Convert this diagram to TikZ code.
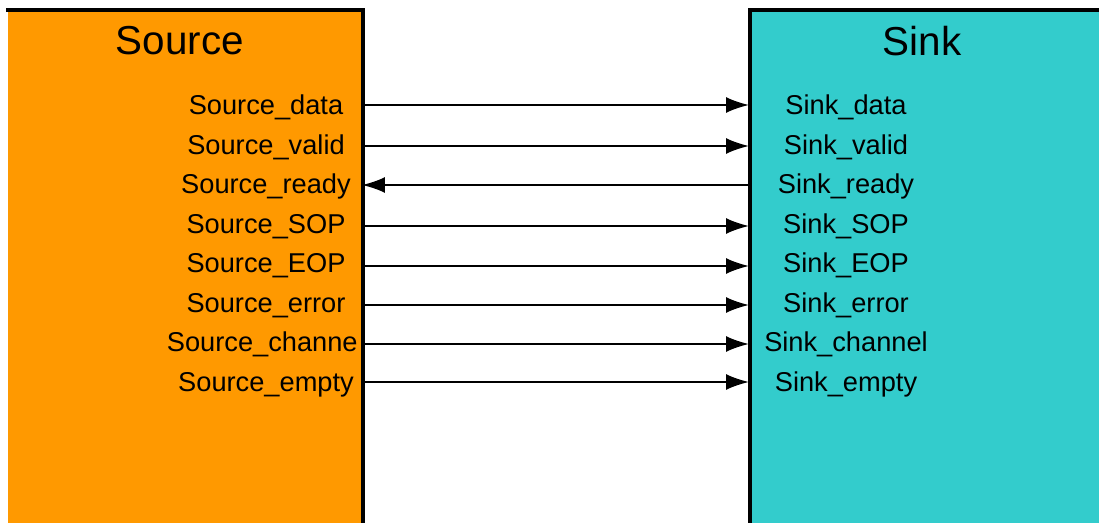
\documentclass[tikz,border=0pt]{standalone}
\usepackage{fontspec}
\setmainfont{Liberation Sans}
\usepackage{tikz}
\usetikzlibrary{arrows.meta, positioning}
\definecolor{srcorange}{HTML}{FF9900}
\definecolor{sinkcyan}{HTML}{33CCCC}

\tikzset{
  block/.style={rectangle, inner sep=0pt, anchor=north west},
  title/.style={font=\fontsize{23}{27}\selectfont},
  sig/.style={font=\fontsize{15.5}{18}\selectfont, inner sep=0pt, anchor=base},
  wire/.style={line width=1.1pt, -{Latex[length=13pt, width=9pt]}},
  edge/.style={line width=2.3pt, line cap=rect}
}

\begin{document}
\begin{tikzpicture}[x=0.02cm, y=-0.02cm]
    \useasboundingbox (0,0) rectangle (1099,523);
    \clip (0,0) rectangle (1099,523);

    % the two blocks, both running off the page
    \node (source) [block, fill=srcorange, minimum width=354*0.02cm, minimum height=530*0.02cm] at (8,10) {};
    \node (sink) [block, fill=sinkcyan, minimum width=360*0.02cm, minimum height=530*0.02cm] at (750,10) {};
    \draw[edge] (source.north west) -- (source.north east) -- (source.south east);
    \draw[edge] (sink.south west) -- (sink.north west) -- (sink.north east);

    \node (srctitle) [title] at (180,41) {Source};
    \node (sinktitle) [title] at (922,41) {Sink};

    % port names
    \node (sdata) [sig] at (266,115) {Source\_data};
    \node (svalid) [sig] at (266,155) {Source\_valid};
    \node (sready) [sig] at (266,194) {Source\_ready};
    \node (ssop) [sig] at (266,234) {Source\_SOP};
    \node (seop) [sig] at (266,273) {Source\_EOP};
    \node (serror) [sig] at (266,313) {Source\_error};
    \node (schan) [sig, anchor=base east] at (358,352) {Source\_channe};
    \node (sempty) [sig] at (266,392) {Source\_empty};

    \node (kdata) [sig] at (846,115) {Sink\_data};
    \node (kvalid) [sig] at (846,155) {Sink\_valid};
    \node (kready) [sig] at (846,194) {Sink\_ready};
    \node (ksop) [sig] at (846,234) {Sink\_SOP};
    \node (keop) [sig] at (846,273) {Sink\_EOP};
    \node (kerror) [sig] at (846,313) {Sink\_error};
    \node (kchan) [sig] at (846,352) {Sink\_channel};
    \node (kempty) [sig] at (846,392) {Sink\_empty};

    % wires between the ports
    \coordinate (a1) at (362,105);  \coordinate (b1) at (749,105);
    \coordinate (a2) at (362,146);  \coordinate (b2) at (749,146);
    \coordinate (a3) at (362,185);  \coordinate (b3) at (749,185);
    \coordinate (a4) at (362,226);  \coordinate (b4) at (749,226);
    \coordinate (a5) at (362,266);  \coordinate (b5) at (749,266);
    \coordinate (a6) at (362,305);  \coordinate (b6) at (749,305);
    \coordinate (a7) at (362,344);  \coordinate (b7) at (749,344);
    \coordinate (a8) at (362,382);  \coordinate (b8) at (749,382);
    \draw[wire] (a1) -- (b1);
    \draw[wire] (a2) -- (b2);
    \draw[wire] (b3) -- (a3);
    \draw[wire] (a4) -- (b4);
    \draw[wire] (a5) -- (b5);
    \draw[wire] (a6) -- (b6);
    \draw[wire] (a7) -- (b7);
    \draw[wire] (a8) -- (b8);
\end{tikzpicture}
\end{document}
